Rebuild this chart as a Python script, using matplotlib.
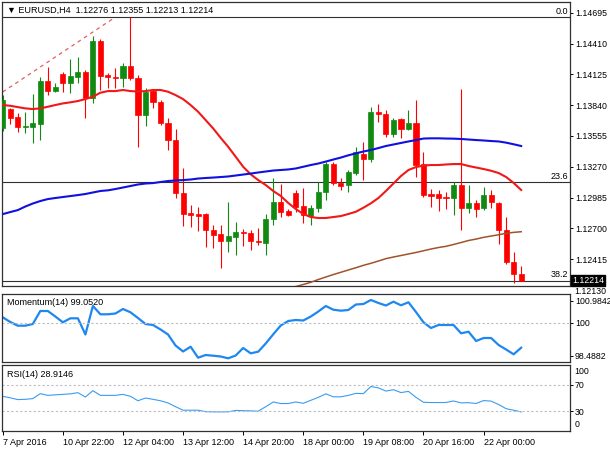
import numpy as np
import matplotlib
matplotlib.use('Agg')
import matplotlib.pyplot as plt
from matplotlib.transforms import blended_transform_factory

plt.rcParams['font.family'] = ['Liberation Sans', 'DejaVu Sans']
plt.rcParams['font.size'] = 6.5

# EURUSD H4 candles
opens = [1.13630, 1.13801, 1.13727, 1.13642, 1.13640, 1.13662, 1.14063, 1.13970, 1.14128, 1.14042,
         1.14103, 1.14149, 1.13908, 1.14433, 1.14118, 1.14103, 1.14088, 1.14204, 1.14088, 1.13748,
         1.13970, 1.13866, 1.13671, 1.13517, 1.13029, 1.12838, 1.12832, 1.12829, 1.12685, 1.12645,
         1.12586, 1.12623, 1.12669, 1.12660, 1.12586, 1.12568, 1.12784, 1.12946, 1.12860, 1.13024,
         1.12910, 1.12815, 1.12884, 1.13039, 1.13292, 1.13122, 1.13101, 1.13215, 1.13384, 1.13341,
         1.13773, 1.13755, 1.13573, 1.13708, 1.13619, 1.13671, 1.13292, 1.13018, 1.13015, 1.12993,
         1.12978, 1.13101, 1.12884, 1.12931, 1.12884, 1.13009, 1.12937, 1.12685, 1.12391, 1.12276]
highs = [1.13935, 1.13816, 1.13764, 1.13776, 1.13943, 1.14103, 1.14195, 1.14042, 1.14149, 1.14263,
         1.14282, 1.14165, 1.14479, 1.14451, 1.14134, 1.14180, 1.14232, 1.14655, 1.14118, 1.14001,
         1.13980, 1.13887, 1.13718, 1.13619, 1.13256, 1.12916, 1.12900, 1.12838, 1.12731, 1.12731,
         1.12946, 1.12761, 1.12691, 1.12685, 1.12700, 1.12830, 1.13163, 1.13108, 1.12876, 1.13055,
         1.13070, 1.12916, 1.13131, 1.13316, 1.13316, 1.13163, 1.13240, 1.13455, 1.13497, 1.13825,
         1.13848, 1.13795, 1.13721, 1.13718, 1.13795, 1.13887, 1.13409, 1.13064, 1.13055, 1.13034,
         1.13131, 1.13989, 1.13101, 1.12962, 1.13086, 1.13055, 1.12946, 1.12808, 1.12478, 1.12355]
lows = [1.13600, 1.13662, 1.13594, 1.13582, 1.13489, 1.13517, 1.13933, 1.13958, 1.13964, 1.13949,
        1.14042, 1.13723, 1.13856, 1.13980, 1.14001, 1.13995, 1.14010, 1.14072, 1.13455, 1.13646,
        1.13810, 1.13656, 1.13425, 1.12983, 1.12721, 1.12715, 1.12678, 1.12530, 1.12515, 1.12330,
        1.12484, 1.12453, 1.12537, 1.12500, 1.12546, 1.12453, 1.12731, 1.12808, 1.12814, 1.12854,
        1.12752, 1.12731, 1.12854, 1.12962, 1.13101, 1.13055, 1.13036, 1.13193, 1.13147, 1.13316,
        1.13686, 1.13548, 1.13545, 1.13535, 1.13610, 1.13178, 1.12993, 1.12900, 1.12861, 1.12879,
        1.12823, 1.12685, 1.12839, 1.12808, 1.12870, 1.12884, 1.12552, 1.12367, 1.12192, 1.12213]
closes = [1.13890, 1.13723, 1.13635, 1.13651, 1.13671, 1.14063, 1.13970, 1.14010, 1.14047, 1.14109,
          1.14149, 1.13908, 1.14433, 1.14109, 1.14097, 1.14088, 1.14204, 1.14088, 1.13748, 1.13958,
          1.13866, 1.13671, 1.13517, 1.13029, 1.12829, 1.12823, 1.12817, 1.12685, 1.12639, 1.12586,
          1.12629, 1.12669, 1.12654, 1.12586, 1.12577, 1.12784, 1.12946, 1.12854, 1.12823, 1.12900,
          1.12823, 1.12884, 1.13039, 1.13292, 1.13116, 1.13095, 1.13218, 1.13403, 1.13341, 1.13773,
          1.13755, 1.13570, 1.13702, 1.13619, 1.13671, 1.13286, 1.13009, 1.13002, 1.12978, 1.12978,
          1.13101, 1.12884, 1.12937, 1.12876, 1.13009, 1.12941, 1.12685, 1.12391, 1.12275, 1.12214]

# moving averages (red 20, blue 100, brown 200)
ma_red = [1.13841, 1.13834, 1.13822, 1.13810, 1.13804, 1.13810, 1.13825, 1.13841, 1.13856, 1.13866,
          1.13878, 1.13896, 1.13918, 1.13955, 1.13970, 1.13970, 1.13980, 1.13970, 1.13966, 1.13970,
          1.13980, 1.13980, 1.13964, 1.13933, 1.13896, 1.13841, 1.13779, 1.13702, 1.13625, 1.13538,
          1.13455, 1.13363, 1.13270, 1.13200, 1.13147, 1.13101, 1.13046, 1.13000, 1.12935, 1.12879,
          1.12833, 1.12805, 1.12796, 1.12796, 1.12805, 1.12814, 1.12833, 1.12854, 1.12891, 1.12932,
          1.12981, 1.13046, 1.13115, 1.13184, 1.13240, 1.13267, 1.13281, 1.13286, 1.13286, 1.13291,
          1.13295, 1.13295, 1.13277, 1.13263, 1.13249, 1.13233, 1.13212, 1.13175, 1.13120, 1.13055]
ma_blue = [1.12832, 1.12851, 1.12869, 1.12902, 1.12930, 1.12953, 1.12971, 1.12981, 1.12990, 1.12999,
           1.13008, 1.13018, 1.13032, 1.13046, 1.13052, 1.13064, 1.13078, 1.13092, 1.13106, 1.13115,
           1.13119, 1.13129, 1.13138, 1.13143, 1.13147, 1.13152, 1.13161, 1.13166, 1.13170, 1.13175,
           1.13180, 1.13189, 1.13198, 1.13207, 1.13217, 1.13226, 1.13235, 1.13240, 1.13245, 1.13254,
           1.13270, 1.13286, 1.13300, 1.13318, 1.13337, 1.13355, 1.13376, 1.13394, 1.13411, 1.13425,
           1.13443, 1.13462, 1.13476, 1.13490, 1.13504, 1.13517, 1.13531, 1.13533, 1.13533, 1.13531,
           1.13530, 1.13527, 1.13522, 1.13517, 1.13513, 1.13508, 1.13504, 1.13493, 1.13478, 1.13462]
ma_brown = [np.nan] * 37 + [
    1.12130, 1.12148, 1.12162, 1.12181, 1.12201, 1.12227, 1.12250, 1.12273, 1.12294, 1.12315,
    1.12336, 1.12358, 1.12377, 1.12398, 1.12420, 1.12435, 1.12449, 1.12463, 1.12477, 1.12493,
    1.12509, 1.12523, 1.12534, 1.12551, 1.12569, 1.12588, 1.12601, 1.12617, 1.12629, 1.12641,
    1.12654, 1.12663, 1.12669]

momentum = [100.241, 100.027, 99.858, 99.858, 99.936, 100.528, 100.528, 100.277, 100.013, 100.195,
            100.195, 99.457, 100.756, 100.378, 100.378, 100.414, 100.620, 100.469, 100.209, 99.936,
            99.890, 99.685, 99.457, 98.955, 98.682, 98.900, 98.399, 98.522, 98.490, 98.454,
            98.371, 98.499, 98.841, 98.599, 98.672, 99.046, 99.466, 99.867, 100.072, 100.118,
            100.095, 100.277, 100.505, 100.756, 100.587, 100.542, 100.574, 100.824, 100.847, 101.030,
            100.893, 100.779, 100.952, 100.788, 100.925, 100.482, 100.013, 99.753, 99.890, 99.890,
            99.890, 99.511, 99.584, 99.160, 99.297, 99.297, 98.978, 98.772, 98.554, 98.854]
rsi = [52.5, 50.3, 47.6, 48.0, 49.1, 56.6, 54.0, 54.8, 55.5, 56.3,
       58.1, 51.5, 61.1, 54.0, 54.0, 54.0, 55.5, 52.5, 45.8, 50.0,
       48.0, 45.8, 42.5, 36.8, 31.5, 31.5, 31.5, 29.3, 29.0, 29.0,
       29.0, 31.2, 30.8, 30.5, 30.0, 36.8, 44.0, 41.6, 41.6, 44.0,
       42.0, 46.5, 51.0, 56.3, 51.8, 51.8, 54.0, 57.0, 56.6, 67.5,
       65.3, 60.5, 62.6, 58.2, 60.0, 51.0, 43.5, 43.1, 43.1, 43.2,
       45.5, 42.6, 42.9, 41.7, 46.1, 45.3, 40.1, 33.8, 31.5, 28.9]
momentum_last = 99.0520
rsi_last = 28.9146

fib_levels = [1.14655, 1.13129, 1.12216]
fib_names = ['0.0', '23.6', '38.2']
trend_idx = [0.0, 14.7]
trend_price = [1.13962, 1.14641]

price_ticks = [1.14695, 1.14410, 1.14125, 1.13840, 1.13555, 1.13270, 1.12985, 1.12700, 1.12415]
date_idx = [0, 8, 16, 24, 32, 40, 48, 56, 64]
date_labels = ['7 Apr 2016', '10 Apr 22:00', '12 Apr 04:00', '13 Apr 12:00', '14 Apr 20:00',
               '18 Apr 00:00', '19 Apr 08:00', '20 Apr 16:00', '22 Apr 00:00']

o = np.array(opens); h = np.array(highs); l = np.array(lows); c = np.array(closes)
x = np.arange(len(o))

W, H = 610, 450
def box(top, bottom):
    return [2 / W, 1 - bottom / H, 568 / W, (bottom - top) / H]

fig = plt.figure(figsize=(W / 100, H / 100), dpi=100)
ax = fig.add_axes(box(2, 286))
axm = fig.add_axes(box(294, 362))
axr = fig.add_axes(box(365, 431))

for a in (ax, axm, axr):
    a.set_xlim(-0.1, 75.5)
    for s in a.spines.values():
        s.set_color('#303030')
        s.set_linewidth(0.9)
    a.yaxis.tick_right()
    a.tick_params(axis='y', length=2, width=0.7, pad=1.5, labelsize=6.3, colors='black')
    a.tick_params(axis='x', length=0)
    a.set_xticks([])

# candles
up = c >= o
col = np.where(up, '#128a12', '#ff0000')
ax.vlines(x, l, h, colors=col, linewidth=0.8, zorder=3)
body_lo = np.minimum(o, c)
body_h = np.maximum(np.abs(c - o), 0.00008)
ax.bar(x, body_h, bottom=body_lo, width=0.68, color=col, edgecolor=col, linewidth=0.5, zorder=4)

ax.plot(x, ma_red, color='#f01818', lw=1.5, zorder=5)
ax.plot(x, ma_blue, color='#1010e0', lw=1.5, zorder=5)
ax.plot(x, ma_brown, color='#a0522d', lw=1.1, zorder=5)
ax.plot(trend_idx, trend_price, color='#e06060', lw=0.9, ls=(0, (3, 3)), zorder=2)

ax.set_ylim(1.12167, 1.14794)
ax.set_yticks(price_ticks)
ax.set_yticklabels([f'{p:.5f}' for p in price_ticks])

tr = blended_transform_factory(ax.transAxes, ax.transData)
for lev, name in zip(fib_levels, fib_names):
    ax.axhline(lev, color='#303030', lw=0.8, zorder=2)
    ax.text(0.997, lev + 0.00012, name, transform=tr, ha='right', va='bottom', fontsize=6.5)

ax.text(1.008, 1.12120, '1.12130', transform=tr, ha='left', va='center', fontsize=6.3, clip_on=False)
ax.text(1.004, closes[-1] + 0.00004, f'{closes[-1]:.5f}', transform=tr, ha='left', va='center',
        fontsize=6.3, color='white', clip_on=False, zorder=10,
        bbox=dict(boxstyle='square,pad=0.12', fc='black', ec='black'))

fig.text(7 / W, 1 - 10 / H, '\u25bc EURUSD,H4  %.5f %.5f %.5f %.5f' % (opens[-1], highs[-1], lows[-1], closes[-1]),
         ha='left', va='center', fontsize=6.5)

# momentum
axm.plot(x, momentum, color='#1e88f0', lw=1.6)
axm.axhline(100, color='#bdbdbd', lw=0.8, ls=(0, (2, 2)))
axm.set_ylim(98.203, 101.303)
axm.set_yticks([100.9842, 100, 98.4882])
axm.set_yticklabels(['100.9842', '100', '98.4882'])
axm.text(0.009, 0.88, 'Momentum(14) %.4f' % momentum_last, transform=axm.transAxes,
         ha='left', va='center', fontsize=6.5)

# RSI
axr.plot(x, rsi, color='#3a9cf2', lw=0.8)
for lev in (70, 30):
    axr.axhline(lev, color='#bdbdbd', lw=0.8, ls=(0, (2, 2)))
axr.set_ylim(0, 100)
axr.set_yticks([70, 30])
axr.set_yticklabels(['70', '30'])
trr = blended_transform_factory(axr.transAxes, axr.transData)
axr.text(1.008, 90, '100', transform=trr, ha='left', va='center', fontsize=6.3, clip_on=False)
axr.text(1.008, 10.5, '0', transform=trr, ha='left', va='center', fontsize=6.3, clip_on=False)
axr.text(0.009, 0.85, 'RSI(14) %.4f' % rsi_last, transform=axr.transAxes,
         ha='left', va='center', fontsize=6.5)

axr.set_xticks(date_idx)
axr.set_xticklabels(date_labels, ha='left')
axr.tick_params(axis='x', length=3, width=0.7, pad=2, labelsize=6.5, direction='out')

fig.savefig('out.png', dpi=100, facecolor='white')
